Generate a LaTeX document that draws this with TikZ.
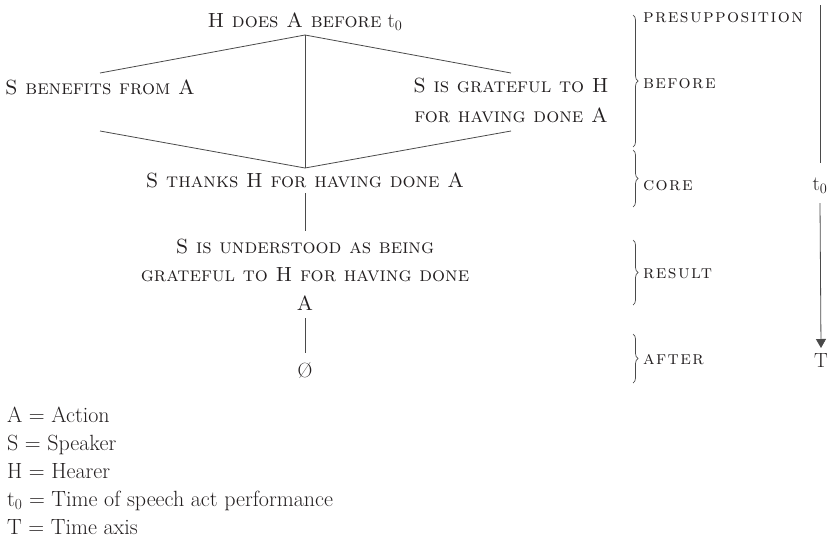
\documentclass[tikz,border=0pt]{standalone}
\usepackage{fontspec}
\usetikzlibrary{decorations.pathreplacing,arrows.meta}
\definecolor{ink}{HTML}{231F20}
\definecolor{rule}{HTML}{4A4A4A}
% tracked small caps for the phase names
\newfontfamily\phasefont[LetterSpace=7.5]{lmromancaps10-regular.otf}
\begin{document}
\begin{tikzpicture}[x=1pt,y=-1pt,
  every node/.style={text=ink, inner sep=0pt, outer sep=0pt},
  main/.style={font=\fontsize{20.5}{30}\selectfont, anchor=base, align=center},
  phase/.style={font=\phasefont\fontsize{19}{22}\selectfont, anchor=base west},
  key/.style={font=\fontsize{22}{26}\selectfont, anchor=base west},
  link/.style={draw=rule, line width=0.8pt},
  brk/.style={draw=rule, line width=0.7pt, decorate, decoration={brace, amplitude=5pt}},
]
\useasboundingbox (0,0) rectangle (829,541);

% states of the speech act (multi-line nodes sit on their last baseline)
\node[main] (top) at (305,27) {\textsc{H does A before} t\textsubscript{0}};
\node[main] (left) at (100,94) {\textsc{S benefits from A}};
\node[main] (right) at (511,122) {\textsc{S is grateful to H}\\\textsc{for having done A}};
\node[main] (core) at (305,187) {\textsc{S thanks H for having done A}};
\node[main, font=\fontsize{20.5}{28.5}\selectfont] (result) at (305,310)
  {\textsc{S is understood as being}\\\textsc{grateful to H for having done}\\\textsc{A}};
\node[main] (empty) at (305,377) {\O};

% lattice between presupposition and core
\coordinate (apex) at ([yshift=-8pt]top.base);
\coordinate (base) at ([yshift=19pt]core.base);
\draw[link] (apex) -- ([yshift=21pt]left.base);
\draw[link] (apex) -- ([yshift=49pt]right.base);
\draw[link] ([yshift=-37pt]left.base) -- (base);
\draw[link] ([yshift=-9pt]right.base) -- (base);
\draw[link] (apex) -- (base);
\draw[link] ([yshift=-6pt]core.base) -- ([yshift=79pt]result.base);
\draw[link] ([yshift=-8pt]result.base) -- ([yshift=24pt]empty.base);

% phases
\draw[brk] (633,15) -- (633,147);
\draw[brk] (633,150) -- (633,207);
\draw[brk] (633,240) -- (633,305);
\draw[brk] (633,334) -- (633,383);
\node[phase] (presup) at (643,22) {presupposition};
\node[phase] (before) at (643,88) {before};
\node[phase] (corel) at (643,190) {core};
\node[phase] (resultl) at (643,278) {result};
\node[phase] (after) at (643,364) {after};

% time axis
\coordinate (axtop) at (820,5);
\node[main] (tzero) at (820,190) {t\textsubscript{0}};
\node[main] (T) at (821,367) {T};
\draw[link] (axtop) -- ([yshift=27pt]tzero.base);
\draw[link, -{Triangle[width=10pt,length=9pt]}] ([yshift=-13pt]tzero.base) -- ([yshift=19pt]T.base);

% key
\node[key] (kA) at (7,422) {A = Action};
\node[key] (kS) at (7,450) {S = Speaker};
\node[key] (kH) at (7,478) {H = Hearer};
\node[key] (kt) at (7,506) {t\textsubscript{0} = Time of speech act performance};
\node[key] (kT) at (7,534) {T = Time axis};
\end{tikzpicture}
\end{document}
